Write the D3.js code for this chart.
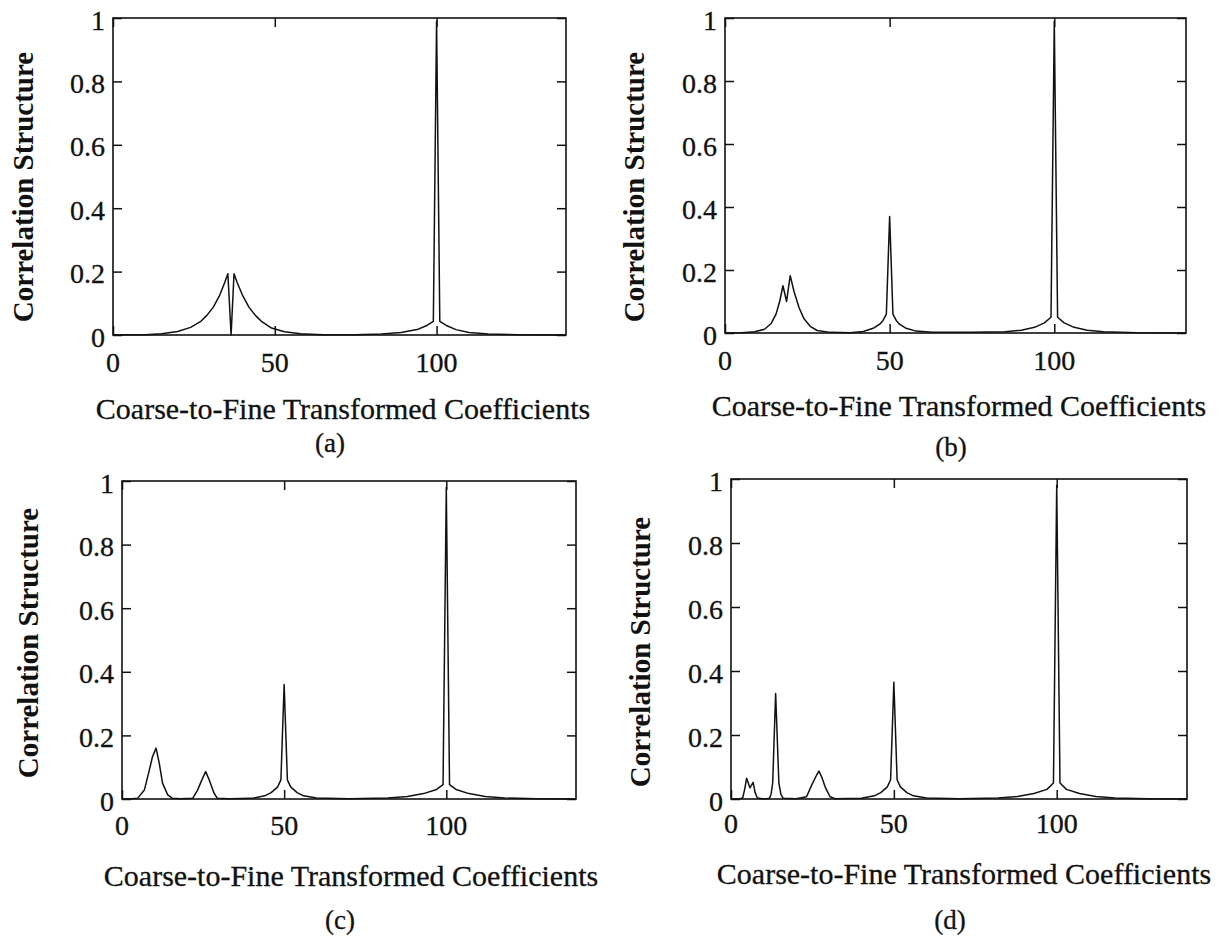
<!DOCTYPE html>
<html>
<head>
	<meta charset="utf-8" />
	<script src="https://cdn.jsdelivr.net/npm/d3@7/dist/d3.min.js"></script>
	<title>correlation structure</title>
	<style>
		body { margin: 0; background: #fff; }
		text { font-family: "Liberation Serif", "Times New Roman", serif; fill: #111; stroke: #111; stroke-width: 0.3px; }
	</style>
</head>
<body>
<script>
const xTicks = [0, 50, 100]
const yTicks = [0, 0.2, 0.4, 0.6, 0.8, 1]
const yTickLabels = ["0", "0.2", "0.4", "0.6", "0.8", "1"]
const xTitle = "Coarse-to-Fine Transformed Coefficients"
const yTitle = "Correlation Structure"
const panelNames = ["(a)", "(b)", "(c)", "(d)"]

// [coefficient index, correlation]
const corrA = [[0,0],[5,0.0005],[10,0.001],[15,0.004],[20,0.011],[24,0.024],[27,0.042],[29,0.062],[31,0.088],[33,0.126],[34.5,0.165],[35.5,0.193],[36.5,0],[37.4,0.193],[38.4,0.165],[40,0.126],[42,0.088],[44,0.062],[46,0.042],[49,0.022],[53,0.01],[58,0.004],[65,0.001],[75,0.001],[83,0.003],[89,0.008],[94,0.017],[97,0.03],[99,0.043],[100,0.99],[101,0.043],[103,0.03],[106,0.017],[110,0.008],[116,0.003],[125,0.001],[140,0]]
const corrB = [[0,0],[5,0.001],[9,0.004],[12,0.012],[14,0.03],[15.5,0.06],[16.6,0.1],[17.6,0.15],[18.7,0.1],[19.8,0.182],[21,0.13],[22.5,0.08],[24,0.045],[26,0.02],[28,0.008],[32,0.002],[38,0.001],[42,0.005],[45,0.015],[47,0.028],[48,0.04],[49,0.06],[50,0.37],[51,0.06],[52,0.04],[53,0.028],[55,0.015],[58,0.006],[63,0.002],[75,0.002],[85,0.004],[90,0.009],[94,0.018],[97,0.032],[99,0.05],[100,0.99],[101,0.05],[103,0.032],[106,0.018],[110,0.009],[115,0.004],[125,0.001],[140,0]]
const corrC = [[0,0],[3,0.001],[4.8,0.002],[6.9,0.028],[8.4,0.09],[9.4,0.133],[10.5,0.16],[11.5,0.112],[12.5,0.05],[14.1,0.013],[15.6,0.002],[18,0.001],[21.8,0.002],[23.3,0.028],[24.8,0.064],[25.8,0.086],[26.9,0.06],[28.4,0.018],[29.4,0.002],[33,0.001],[40,0.002],[44,0.01],[46,0.02],[48,0.038],[49,0.06],[50,0.36],[51,0.06],[52,0.038],[54,0.02],[56,0.01],[60,0.003],[70,0.001],[82,0.003],[88,0.008],[93,0.017],[97,0.03],[99,0.045],[100,0.98],[101,0.045],[103,0.03],[107,0.017],[112,0.008],[118,0.003],[128,0.001],[140,0]]
const corrD = [[0,0],[3,0.001],[3.6,0.004],[4.2,0.03],[4.8,0.065],[5.8,0.035],[6.8,0.052],[7.4,0.02],[8.1,0.003],[9.5,0.001],[11,0.001],[11.8,0.002],[12.3,0.015],[12.8,0.05],[13.7,0.33],[14.7,0.05],[15.3,0.015],[16,0.002],[20,0.001],[23.2,0.007],[24.8,0.044],[26.3,0.075],[27,0.087],[27.8,0.07],[28.9,0.038],[30.4,0.007],[32,0.001],[40,0.002],[44,0.01],[46,0.02],[48,0.038],[49,0.06],[50,0.365],[51,0.06],[52,0.038],[54,0.02],[56,0.01],[60,0.003],[70,0.001],[82,0.003],[88,0.008],[93,0.017],[97,0.03],[99,0.05],[100,0.98],[101,0.05],[103,0.03],[107,0.017],[112,0.008],[118,0.003],[128,0.001],[140,0]]
const series = [corrA, corrB, corrC, corrD]

const W = 1229, H = 937
// panel boxes and where the texts sit below them
const layout = [
	{l: 113, r: 566, t: 18, b: 335, tickDy: 27, titleDy: 73, nameDy: 108, titleX: 343, nameX: 330, yX: 23, yY: 187},
	{l: 725, r: 1186, t: 18, b: 333, tickDy: 27, titleDy: 72, nameDy: 114, titleX: 959, nameX: 951, yX: 634, yY: 187},
	{l: 122, r: 576, t: 481, b: 799, tickDy: 26, titleDy: 76, nameDy: 121, titleX: 351, nameX: 340, yX: 28, yY: 643},
	{l: 731, r: 1187, t: 479, b: 799, tickDy: 24, titleDy: 74, nameDy: 121, titleX: 964, nameX: 950, yX: 640, yY: 652}
]
const tickLen = 9

const svg = d3.select("body").append("svg")
	.attr("width", W)
	.attr("height", H)
	.style("display", "block")

svg.append("rect").attr("width", W).attr("height", H).attr("fill", "#fff")

layout.forEach((p, i) => {
	const x = d3.scaleLinear().domain([0, 140]).range([p.l, p.r])
	const y = d3.scaleLinear().domain([0, 1]).range([p.b, p.t])
	const g = svg.append("g")

	// ticks on all four sides, pointing inward
	g.append("g").attr("transform", `translate(0,${p.b})`)
		.call(d3.axisBottom(x).tickValues(xTicks).tickSizeInner(-tickLen).tickSizeOuter(0).tickFormat(""))
	g.append("g").attr("transform", `translate(0,${p.t})`)
		.call(d3.axisTop(x).tickValues(xTicks).tickSizeInner(-tickLen).tickSizeOuter(0).tickFormat(""))
	g.append("g").attr("transform", `translate(${p.l},0)`)
		.call(d3.axisLeft(y).tickValues(yTicks).tickSizeInner(-tickLen).tickSizeOuter(0).tickFormat(""))
	g.append("g").attr("transform", `translate(${p.r},0)`)
		.call(d3.axisRight(y).tickValues(yTicks).tickSizeInner(-tickLen).tickSizeOuter(0).tickFormat(""))
	g.selectAll(".domain").remove()
	g.selectAll(".tick line").attr("stroke", "#111").attr("stroke-width", 1.5)

	g.append("rect")
		.attr("x", p.l).attr("y", p.t)
		.attr("width", p.r - p.l).attr("height", p.b - p.t)
		.attr("fill", "none").attr("stroke", "#111").attr("stroke-width", 1.6)

	g.selectAll(".xl").data(xTicks).enter().append("text")
		.attr("x", d => x(d)).attr("y", p.b + p.tickDy)
		.attr("text-anchor", "middle").attr("dominant-baseline", "central")
		.attr("font-size", 28).text(d => d)
	g.selectAll(".yl").data(yTicks).enter().append("text")
		.attr("x", p.l - 8).attr("y", d => y(d) + 2)
		.attr("text-anchor", "end").attr("dominant-baseline", "central")
		.attr("font-size", 28).text((d, k) => yTickLabels[k])

	g.append("text")
		.attr("x", p.titleX).attr("y", p.b + p.titleDy)
		.attr("text-anchor", "middle").attr("dominant-baseline", "central")
		.attr("font-size", 30).text(xTitle)
	g.append("text")
		.attr("transform", `translate(${p.yX},${p.yY}) rotate(-90)`)
		.attr("text-anchor", "middle").attr("dominant-baseline", "central")
		.attr("font-size", 29).attr("font-weight", "bold").style("stroke-width", "0px").text(yTitle)
	g.append("text")
		.attr("x", p.nameX).attr("y", p.b + p.nameDy)
		.attr("text-anchor", "middle").attr("dominant-baseline", "central")
		.attr("font-size", 27).text(panelNames[i])

	const line = d3.line().x(d => x(d[0])).y(d => y(d[1]))
	g.append("path")
		.datum(series[i])
		.attr("d", line)
		.attr("fill", "none")
		.attr("stroke", "#111")
		.attr("stroke-width", 1.5)
		.attr("stroke-linejoin", "round")
})
</script>
</body>
</html>
